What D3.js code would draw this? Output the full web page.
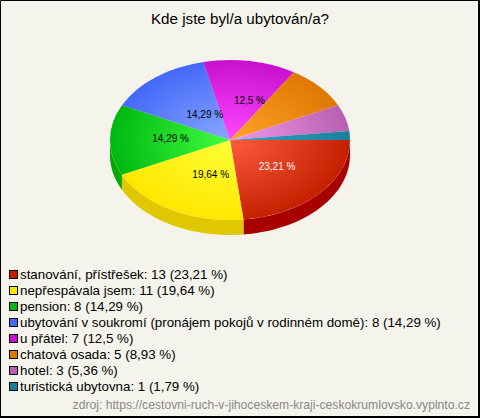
<!DOCTYPE html>
<html><head><meta charset="utf-8">
<style>html,body{margin:0;padding:0;background:#f5f4ec}svg{display:block}text{font-family:"Liberation Sans",Arial,sans-serif}</style>
<script src="https://cdn.jsdelivr.net/npm/d3@7/dist/d3.min.js"></script>
</head><body><script>
const title = "Kde jste byl/a ubytován/a?";
const categories = ["stanování, přístřešek","nepřespávala jsem","pension","ubytování v soukromí (pronájem pokojů v rodinném domě)","u přátel","chatová osada","hotel","turistická ubytovna"];
const counts = [13,11,8,8,7,5,3,1];
const percents = ["23,21","19,64","14,29","14,29","12,5","8,93","5,36","1,79"];
const topDark = ["#c42000","#ffe600","#00b810","#4468f8","#c810d0","#e07800","#b860b0","#18809c"];
const topLight = ["#ff5c40","#ffff38","#40ff40","#88a8ff","#ff48ff","#ffa428","#f098ec","#38a4bc"];
const sideColors = ["#a80000","#e0c800","#00a800","#2848c0","#a000a8","#c06000","#904890","#106070"];
const source = "zdroj: https://cestovni-ruch-v-jihoceskem-kraji-ceskokrumlovsko.vyplnto.cz";

const W=480,H=418,cx=230,cy=140,rx=120,ry=80,depth=15;
const labelNudge=[[5,1],[8,2],[-3,-2],[10,4],[10,-2]];
const svg=d3.select("body").append("svg").attr("width",W).attr("height",H);
svg.append("rect").attr("width",W).attr("height",H).attr("fill","#f5f4ec");
svg.append("path").attr("d",`M0.5,${H}V0.5H${W}`).attr("fill","none").attr("stroke","#000");
svg.append("path").attr("d",`M0,${H-1}H${W-1}V0`).attr("fill","none").attr("stroke","#000").attr("stroke-width",2);

svg.append("text").attr("x",240).attr("y",24).attr("text-anchor","middle").attr("font-size",15.2).attr("fill","#000").text(title);

const pie=d3.pie().sort(null).value(d=>d).startAngle(Math.PI/2).endAngle(Math.PI/2+2*Math.PI);
const arcs=pie(counts);
const sx=d3.scaleLinear().domain([-1,1]).range([cx-rx,cx+rx]);
const sy=d3.scaleLinear().domain([-1,1]).range([cy-ry,cy+ry]);
const defs=svg.append("defs");
arcs.forEach((a,i)=>{
  const g=defs.append("radialGradient").attr("id","g"+i).attr("gradientUnits","userSpaceOnUse").attr("cx",0).attr("cy",0).attr("r",1);
  g.append("stop").attr("offset",0).attr("stop-color",topLight[i]);
  g.append("stop").attr("offset",1).attr("stop-color",topDark[i]);
});
// side wall: d3 pie angle is clockwise from north
const px=t=>sx(Math.sin(t)), py=t=>sy(-Math.cos(t));
const wall=svg.append("g");
arcs.forEach((a,i)=>{
  const lo=Math.max(a.startAngle,Math.PI/2), hi=Math.min(a.endAngle,3*Math.PI/2);
  if(hi<=lo) return;
  const ts=d3.range(0,41).map(k=>lo+(hi-lo)*k/40);
  const area=d3.area().x(t=>px(t)).y0(t=>py(t)).y1(t=>py(t)+depth);
  wall.append("path").attr("d",area(ts)).attr("fill",sideColors[i]);
});
const arcGen=d3.arc().innerRadius(0).outerRadius(1);
const surface=svg.append("g").attr("transform",`translate(${cx},${cy}) scale(${rx},${ry})`);
surface.selectAll("path").data(arcs).join("path").attr("d",arcGen).attr("fill",(d,i)=>`url(#g${i})`);

arcs.forEach((a,i)=>{
  if(counts[i]/d3.sum(counts)<0.1) return;
  const t=(a.startAngle+a.endAngle)/2, r=0.47;
  svg.append("text").attr("x",sx(r*Math.sin(t))+labelNudge[i][0]).attr("y",sy(-r*Math.cos(t))+labelNudge[i][1]+3.5)
    .attr("text-anchor","middle").attr("font-size",10).attr("fill",i===0?"#fff":"#000").text(percents[i]+" %");
});

const leg=svg.append("g");
const rowY=d3.scaleLinear().domain([0,1]).range([274,290]);
categories.forEach((c,i)=>{
  const y=rowY(i);
  leg.append("rect").attr("x",9.5).attr("y",y-3.5).attr("width",8).attr("height",8).attr("fill",topDark[i]).attr("stroke","#000");
  leg.append("text").attr("x",20).attr("y",y+5).attr("font-size",13.33).attr("fill","#000").text(`${c}: ${counts[i]} (${percents[i]} %)`);
});
svg.append("text").attr("x",470).attr("y",409).attr("text-anchor","end").attr("font-size",12.15).attr("fill","#888").text(source);
</script></body></html>
